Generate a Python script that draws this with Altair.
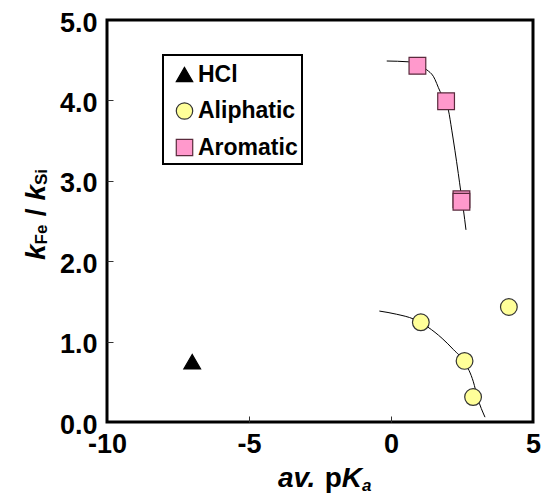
import altair as alt
import pandas as pd

# ---- data ----
series_names = ["HCl", "Aliphatic", "Aromatic"]

hcl_x = [-7.0]
hcl_y = [0.75]

aliph_x = [1.05, 2.59, 2.89, 4.15]
aliph_y = [1.24, 0.76, 0.31, 1.43]

arom_x = [0.93, 1.94, 2.48, 2.48]
arom_y = [4.43, 3.99, 2.77, 2.74]

# fitted curves
arom_curve_x = [-0.15, 0.61, 0.93, 1.26, 1.49, 1.73, 1.94, 2.02, 2.14, 2.25, 2.37, 2.46, 2.55, 2.64]
arom_curve_y = [4.49, 4.48, 4.45, 4.38, 4.30, 4.11, 3.97, 3.88, 3.63, 3.38, 3.09, 2.86, 2.64, 2.39]

aliph_curve_x = [-0.41, 0.20, 0.80, 1.30, 1.80, 2.20, 2.60, 2.90, 3.05, 3.31]
aliph_curve_y = [1.38, 1.34, 1.28, 1.18, 1.04, 0.90, 0.74, 0.50, 0.30, 0.06]

x_ticks = [-10, -5, 0, 5]
y_ticks = [0, 1, 2, 3, 4, 5]

fill_colors = ["#000000", "#FFFF99", "#FF99CC"]
stroke_colors = ["#000000", "#333333", "#5a2a3c"]
shapes = ["triangle-up", "circle", "square"]

# ---- tables ----
pts = pd.DataFrame({
    "x": hcl_x + aliph_x + arom_x,
    "y": hcl_y + aliph_y + arom_y,
    "series": ["HCl"] * len(hcl_x) + ["Aliphatic"] * len(aliph_x) + ["Aromatic"] * len(arom_x),
})
pts["ord"] = range(len(pts))

curves = pd.DataFrame({
    "x": arom_curve_x + aliph_curve_x,
    "y": arom_curve_y + aliph_curve_y,
    "curve": ["arom"] * len(arom_curve_x) + ["aliph"] * len(aliph_curve_x),
})

W, H = 426, 402
FONT = "Liberation Sans"

xs = alt.Scale(domain=[-10, 5], nice=False, zero=False)
ys = alt.Scale(domain=[0, 5], nice=False, zero=False)

curve_layer = alt.Chart(curves).mark_line(
    color="black", strokeWidth=1, interpolate="monotone"
).encode(
    x=alt.X("x:Q", scale=xs, axis=alt.Axis(
        title=None, values=x_ticks, labelExpr="toString(datum.value)",
        ticks=False, tickSize=0, domain=False, grid=False, labelPadding=9,
        labelFont=FONT, labelFontSize=27, labelFontWeight="bold",
        labelColor="black", labelFlush=False)),
    y=alt.Y("y:Q", scale=ys, axis=alt.Axis(
        title=None, values=y_ticks, format=".1f",
        ticks=False, tickSize=0, domain=False, grid=False, labelPadding=10,
        labelOffset=3,
        labelFont=FONT, labelFontSize=27, labelFontWeight="bold",
        labelColor="black", labelFlush=False)),
    detail="curve:N",
)

NBSP = "\u00a0"
legend = alt.Legend(
    title=NBSP, titleFontSize=3, titlePadding=1,
    orient="none", legendX=56, legendY=35,
    padding=4, symbolOffset=6, rowPadding=12.5, labelOffset=2,
    labelFont=FONT, labelFontSize=23, labelFontWeight="bold", labelColor="black",
    symbolSize=270, symbolStrokeWidth=1.2,
    strokeColor="black", fillColor="white",
)

pt_layer = alt.Chart(pts).mark_point(
    filled=True, size=280, strokeWidth=1.2, opacity=1
).encode(
    x=alt.X("x:Q", scale=xs, axis=alt.Axis(
        orient="top", offset=-H, labels=False, domain=False, grid=False,
        title=None, values=[-5, 0], tickSize=6, tickColor="#333", tickWidth=1)),
    y=alt.Y("y:Q", scale=ys, axis=alt.Axis(
        orient="right", offset=-W, labels=False, domain=False, grid=False,
        title=None, values=[1, 2, 3, 4], tickSize=6, tickColor="#333", tickWidth=1)),
    shape=alt.Shape("series:N", scale=alt.Scale(domain=series_names, range=shapes), legend=legend),
    fill=alt.Fill("series:N", scale=alt.Scale(domain=series_names, range=fill_colors), legend=legend),
    stroke=alt.Stroke("series:N", scale=alt.Scale(domain=series_names, range=stroke_colors), legend=legend),
    order="ord:Q",
)


def txt(s, x, y, dx, dy, size, italic, angle=0):
    kw = dict(align="left", baseline="alphabetic", font=FONT, fontWeight="bold",
              fontSize=size, dx=dx, dy=dy, color="black")
    if italic:
        kw["fontStyle"] = "italic"
    if angle:
        kw["angle"] = angle
    return alt.Chart(pd.DataFrame({"t": [s]})).mark_text(**kw).encode(
        x=alt.value(x), y=alt.value(y), text="t:N")


# x title: av. pK_a
XT_X, XT_Y = 171, 467
x_title = [
    txt("av.", XT_X, XT_Y, 0, 0, 28, True),
    txt("p", XT_X, XT_Y, 46.7, 0, 28, False),
    txt("K", XT_X, XT_Y, 63.8, 0, 28, True),
    txt("a", XT_X, XT_Y, 84, 4, 17, True),
]

# y title: k_Fe / k_Si (rotated)
YT_X, YT_Y = -62, 240
y_title = [
    txt("k", YT_X, YT_Y, 0, 0, 28, True, 270),
    txt("Fe", YT_X, YT_Y, 15.6, 2, 17, False, 270),
    txt("/", YT_X, YT_Y, 43.8, 0, 28, False, 270),
    txt("k", YT_X, YT_Y, 59.4, 0, 28, True, 270),
    txt("Si", YT_X, YT_Y, 75, 2, 17, False, 270),
]

chart = alt.layer(curve_layer, pt_layer, *x_title, *y_title).resolve_axis(
    x="independent", y="independent"
).properties(
    width=W, height=H,
    autosize=alt.AutoSizeParams(type="none"),
    padding={"left": 99, "top": 12, "right": 14, "bottom": 75},
).configure_view(
    stroke="black", strokeWidth=3
).configure_legend(
    strokeWidth=2
)

chart.save("out.html", embed_options={"renderer": "svg", "actions": False})
